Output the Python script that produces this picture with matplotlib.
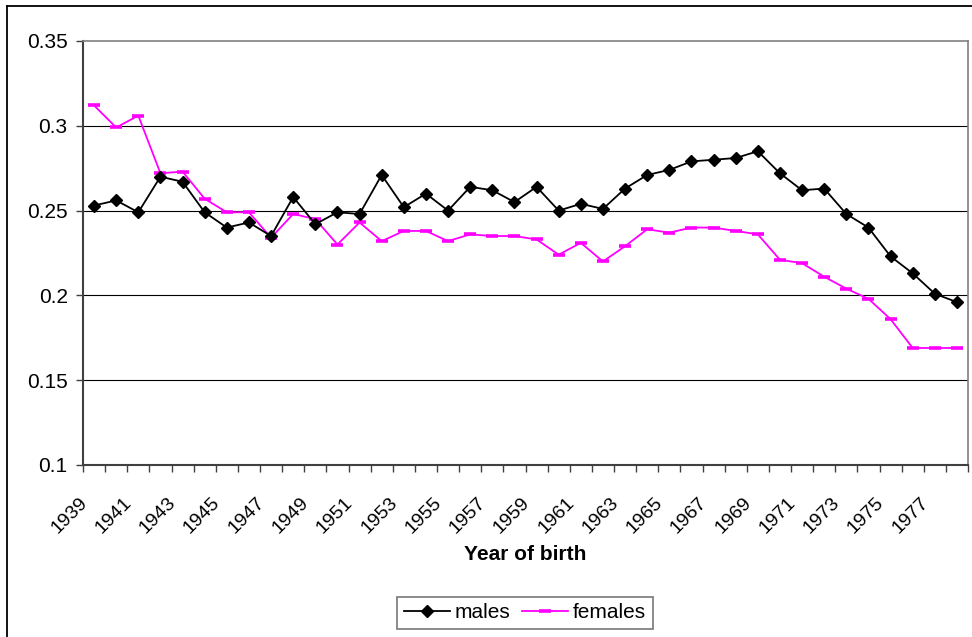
import numpy as np
import matplotlib
matplotlib.use("Agg")
import matplotlib.pyplot as plt
from matplotlib.lines import Line2D
from matplotlib.transforms import ScaledTranslation

years = list(range(1939, 1979))
males = [0.253, 0.256, 0.249, 0.270, 0.267, 0.249, 0.240, 0.243, 0.235, 0.258,
         0.242, 0.249, 0.248, 0.271, 0.252, 0.260, 0.250, 0.264, 0.262, 0.255,
         0.264, 0.250, 0.254, 0.251, 0.263, 0.271, 0.274, 0.279, 0.280, 0.281,
         0.285, 0.272, 0.262, 0.263, 0.248, 0.240, 0.223, 0.213, 0.201, 0.196]
females = [0.312, 0.299, 0.306, 0.272, 0.273, 0.257, 0.249, 0.249, 0.234, 0.248,
           0.245, 0.230, 0.243, 0.232, 0.238, 0.238, 0.232, 0.236, 0.235, 0.235,
           0.233, 0.224, 0.231, 0.220, 0.229, 0.239, 0.237, 0.240, 0.240, 0.238,
           0.236, 0.221, 0.219, 0.211, 0.204, 0.198, 0.186, 0.169, 0.169, 0.169]
yticks = [0.1, 0.15, 0.2, 0.25, 0.3, 0.35]

plt.rcParams['font.family'] = ['Liberation Sans', 'DejaVu Sans']
fs = 15

fig = plt.figure(figsize=(9.72, 6.37), dpi=100)
W, H = 972, 637
ax = fig.add_axes([83 / W, (H - 465) / H, (968 - 83) / W, (465 - 41) / H])

x = np.arange(len(years))
ax.plot(x, males, color='black', lw=1.3, marker='D', ms=6, mew=1,
        mfc='black', mec='black', label='males', zorder=4)
ax.plot(x, females, color='#ff00ff', lw=1.3, marker='_', ms=8, mew=2.6,
        label='females', zorder=3)

ax.set_xlim(-0.5, len(years) - 0.5)
ax.set_ylim(0.1, 0.35)
ax.set_yticks(yticks)
ax.set_yticklabels([f'{v:g}' for v in yticks], fontsize=fs)
for v in yticks[1:-1]:
    ax.axhline(v, color='black', lw=0.8, zorder=1)

# tick marks sit on the category boundaries, labels on every other category
ax.set_xticks(np.arange(len(years) + 1) - 0.5)
ax.set_xticklabels([])
ax.set_xticks(x[::2], minor=True)
ax.set_xticklabels([str(y) for y in years[::2]], minor=True, fontsize=14,
                   rotation=45, ha='right', va='top', rotation_mode='anchor')
ax.tick_params(axis='x', which='major', direction='out', length=5, width=1,
               color='#404040')
ax.tick_params(axis='x', which='minor', length=0, pad=21)
ax.tick_params(axis='y', direction='out', length=5, width=1, color='#404040',
               pad=6)
shift = ScaledTranslation(-11 / 72, 0, fig.dpi_scale_trans)
for lab in ax.get_xticklabels(minor=True):
    lab.set_transform(lab.get_transform() + shift)

for side in ['left', 'bottom']:
    ax.spines[side].set_color('#404040')
    ax.spines[side].set_linewidth(1.5)
for side in ['top', 'right']:
    ax.spines[side].set_color('#808080')
    ax.spines[side].set_linewidth(1.2)

fig.text(525 / W, 1 - 555 / H, 'Year of birth', fontsize=fs, fontweight='bold',
         ha='center', va='center')

leg = fig.legend(loc='center', bbox_to_anchor=(525 / W, 1 - 613 / H), ncol=2,
                 fontsize=fs, frameon=True, fancybox=False, handlelength=2.2,
                 handletextpad=0.25, columnspacing=0.55, borderpad=0.32,
                 numpoints=1)
leg.get_frame().set_edgecolor('#555555')
leg.get_frame().set_linewidth(1.2)

# outer chart border (left and top edges visible)
fig.add_artist(Line2D([7 / W, 7 / W], [0, 1 - 6 / H], color='black', lw=1.3,
                      transform=fig.transFigure))
fig.add_artist(Line2D([7 / W, 1], [1 - 6 / H, 1 - 6 / H], color='black', lw=1.3,
                      transform=fig.transFigure))

fig.savefig('out.png', dpi=100)
